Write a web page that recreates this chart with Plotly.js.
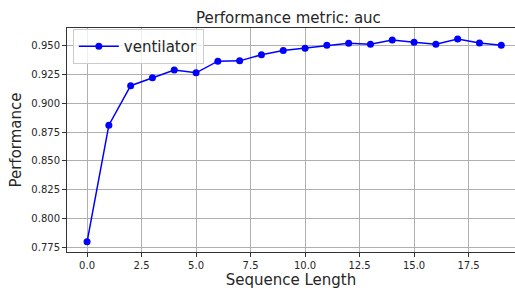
<!DOCTYPE html>
<html><head><meta charset="utf-8">
<script src="https://cdn.plot.ly/plotly-3.0.1.min.js"></script>
<style>body{margin:0;padding:0;background:#fff}#chart{width:515px;height:290px}</style>
</head><body><div id="chart"></div>
<script>
const seqLength = [0,1,2,3,4,5,6,7,8,9,10,11,12,13,14,15,16,17,18,19];
const auc = [0.7796,0.881,0.9154,0.9223,0.929,0.9266,0.9367,0.937,0.9423,0.946,0.948,0.9506,0.9523,0.9515,0.9552,0.9532,0.9515,0.956,0.9526,0.9506];
const seriesName = 'ventilator';
const xTicks = [0,2.5,5,7.5,10,12.5,15,17.5];
const xTickText = ['0.0','2.5','5.0','7.5','10.0','12.5','15.0','17.5'];
const yTicks = [0.775,0.8,0.825,0.85,0.875,0.9,0.925,0.95];
const yTickText = ['0.775','0.800','0.825','0.850','0.875','0.900','0.925','0.950'];

const font = 'DejaVu Sans, sans-serif';
Plotly.newPlot('chart', [{
  x: seqLength, y: auc, name: seriesName, type: 'scatter', mode: 'lines+markers',
  line: {color: '#0000ff', width: 1.5},
  marker: {color: '#0000ff', size: 7}
}], {
  width: 515, height: 290,
  margin: {l: 67, r: 0, t: 28, b: 38},
  paper_bgcolor: '#fff', plot_bgcolor: '#fff',
  showlegend: true,
  title: {text: 'Performance metric: auc', font: {family: font, size: 15, color: '#262626'}, x: 0.56, xanchor: 'center', y: 0.94, yanchor: 'middle'},
  xaxis: {
    range: [-0.92, 19.63], tickvals: xTicks, ticktext: xTickText,
    showgrid: true, gridcolor: '#b0b0b0', gridwidth: 1, zeroline: false,
    showline: true, linecolor: '#333', linewidth: 1, mirror: true,
    ticks: 'outside', ticklen: 4, tickcolor: '#333',
    tickfont: {family: font, size: 10, color: '#262626'},
    title: {text: 'Sequence Length', font: {family: font, size: 15, color: '#262626'}, standoff: 4}
  },
  yaxis: {
    range: [0.7707, 0.9656], tickvals: yTicks, ticktext: yTickText,
    showgrid: true, gridcolor: '#b0b0b0', gridwidth: 1, zeroline: false,
    showline: true, linecolor: '#333', linewidth: 1, mirror: true,
    ticks: 'outside', ticklen: 4, tickcolor: '#333',
    tickfont: {family: font, size: 10, color: '#262626'},
    title: {text: 'Performance', font: {family: font, size: 15, color: '#262626'}, standoff: 6}
  },
  legend: {x: 0.013, y: 0.839, xanchor: 'left', yanchor: 'bottom',
    itemwidth: 40,
    bgcolor: 'rgba(255,255,255,0.8)', bordercolor: '#cccccc', borderwidth: 1,
    font: {family: font, size: 15, color: '#262626'}}
}, {displayModeBar: false, staticPlot: true});
</script></body></html>
